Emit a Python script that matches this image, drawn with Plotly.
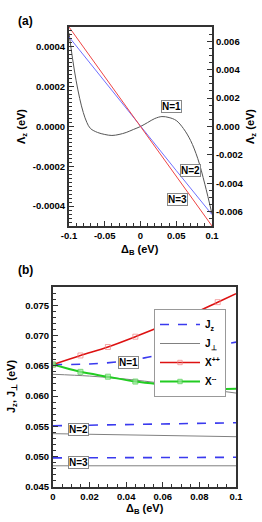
import plotly.graph_objects as go

# ---------- Panel (a) data ----------
xa_curve = [-0.1, -0.095, -0.09, -0.085, -0.08, -0.075, -0.07, -0.06, -0.05, -0.04, -0.03,
            -0.02, -0.01, 0.0, 0.01, 0.02, 0.03, 0.04, 0.05, 0.06, 0.07, 0.08, 0.09, 0.1]
lam_n1 = [0.00047, 0.00034, 0.00023, 0.00014, 0.00007, 0.00002, -0.00001, -0.00003, -0.00004,
          -0.000045, -0.00004, -0.00003, -0.000015, 0.0, 0.00002, 0.00004, 0.00005, 0.000045,
          0.00003, -0.00001, -0.00007, -0.00016, -0.00029, -0.00044]
xa_lin = [-0.1, -0.05, 0.0, 0.05, 0.1]
lam_n2 = [0.0063, 0.00315, 0.0, -0.0031, -0.0062]
lam_n3 = [0.0070, 0.0035, 0.0, -0.0035, -0.0070]

xa_tickvals = [-0.1, -0.05, 0, 0.05, 0.1]
xa_ticktext = ["-0.1", "-0.05", "0", "0.05", "0.1"]
ya_tickvals = [-0.0004, -0.0002, 0.0, 0.0002, 0.0004]
ya_ticktext = ["-0.0004", "-0.0002", "0.0000", "0.0002", "0.0004"]
ya2_tickvals = [-0.006, -0.004, -0.002, 0.0, 0.002, 0.004, 0.006]
ya2_ticktext = ["-0.006", "-0.004", "-0.002", "0.000", "0.002", "0.004", "0.006"]

# ---------- Panel (b) data ----------
xb_line = [0.0, 0.02, 0.04, 0.05, 0.06, 0.08, 0.1]
jz_n1 = [0.0652, 0.0653, 0.0658, 0.0663, 0.0669, 0.0679, 0.0689]
xb_perp = [0.0, 0.02, 0.04, 0.06, 0.08, 0.1]
jp_n1 = [0.0636, 0.0633, 0.0628, 0.0621, 0.0613, 0.0605]
xb_flat = [0.0, 0.05, 0.1]
jz_n2 = [0.0551, 0.0554, 0.0556]
jp_n2 = [0.0538, 0.0535, 0.0533]
jz_n3 = [0.0498, 0.0499, 0.0499]
jp_n3 = [0.0485, 0.0485, 0.0485]
xb_x = [0.0, 0.015, 0.03, 0.045, 0.06, 0.075, 0.09, 0.1]
x_pp = [0.0652, 0.0667, 0.0681, 0.0698, 0.0716, 0.0734, 0.0755, 0.0769]
x_mm = [0.0652, 0.0640, 0.0632, 0.0624, 0.0619, 0.0615, 0.0612, 0.0612]

xb_tickvals = [0, 0.02, 0.04, 0.06, 0.08, 0.1]
xb_ticktext = ["0", "0.02", "0.04", "0.06", "0.08", "0.1"]
yb_tickvals = [0.045, 0.05, 0.055, 0.06, 0.065, 0.07, 0.075]
yb_ticktext = ["0.045", "0.050", "0.055", "0.060", "0.065", "0.070", "0.075"]

W, H = 262, 522
FONT = "Liberation Sans, Arial, sans-serif"
TF = dict(family=FONT, size=9.5, color="black", weight="bold")
TTL = dict(family=FONT, size=11, color="black", weight="bold")

def px_x(p):
    return p / W

def px_y(p):
    return 1 - p / H

fig = go.Figure()

# Panel (a)
fig.add_trace(go.Scatter(x=xa_curve, y=lam_n1, mode="lines", line=dict(color="#555555", width=1, shape="spline"),
                         xaxis="x", yaxis="y", showlegend=False))
fig.add_trace(go.Scatter(x=xa_lin, y=lam_n2, mode="lines", line=dict(color="#6f6fff", width=1),
                         xaxis="x", yaxis="y2", showlegend=False))
fig.add_trace(go.Scatter(x=xa_lin, y=lam_n3, mode="lines", line=dict(color="#ee4444", width=1),
                         xaxis="x", yaxis="y2", showlegend=False))

# Panel (b)
blue = "#3a3aee"
gray = "#808080"
fig.add_trace(go.Scatter(x=xb_line, y=jz_n1, mode="lines", name="J<sub>z</sub>",
                         line=dict(color=blue, width=1.6, dash="dash", shape="spline"),
                         xaxis="x3", yaxis="y3", legendrank=1))
fig.add_trace(go.Scatter(x=xb_perp, y=jp_n1, mode="lines", name="J<sub>⊥</sub>",
                         line=dict(color=gray, width=1, shape="spline"),
                         xaxis="x3", yaxis="y3", legendrank=2))
for yv in (jz_n2, jz_n3):
    fig.add_trace(go.Scatter(x=xb_flat, y=yv, mode="lines", line=dict(color=blue, width=1.6, dash="dash"),
                             xaxis="x3", yaxis="y3", showlegend=False))
for yv in (jp_n2, jp_n3):
    fig.add_trace(go.Scatter(x=xb_flat, y=yv, mode="lines", line=dict(color=gray, width=1),
                             xaxis="x3", yaxis="y3", showlegend=False))
msizes = [5, 5, 5, 5, 5, 5, 5, 0]
fig.add_trace(go.Scatter(x=xb_x, y=x_pp, mode="lines+markers", name="X<sup>++</sup>",
                         line=dict(color="#dd1111", width=1.6, shape="spline"),
                         marker=dict(symbol="square-open", size=msizes, color="#f08080", line=dict(width=1)),
                         xaxis="x3", yaxis="y3", legendrank=3))
fig.add_trace(go.Scatter(x=xb_x, y=x_mm, mode="lines+markers", name="X<sup>--</sup>",
                         line=dict(color="#22cc22", width=2, shape="spline"),
                         marker=dict(symbol="square", size=msizes, color="#9be89b",
                                     line=dict(color="#44cc44", width=1)),
                         xaxis="x3", yaxis="y3", legendrank=4))

axis_common = dict(showline=True, linecolor="#333333", linewidth=2, ticks="inside", tickcolor="#333333",
                   tickfont=TF, showgrid=False, zeroline=False, ticklen=5, automargin=False)

fig.update_layout(
    width=W, height=H, margin=dict(l=0, r=0, t=0, b=0, autoexpand=False),
    paper_bgcolor="white", plot_bgcolor="white",
    font=dict(family=FONT, size=10, color="black"),
    xaxis=dict(domain=[px_x(69), px_x(212)], anchor="y", range=[-0.1, 0.1], mirror=True,
               tickvals=xa_tickvals, ticktext=xa_ticktext,
               minor=dict(ticks="inside", dtick=0.01, ticklen=3, tickcolor="#333333"),
               **axis_common),
    yaxis=dict(domain=[px_y(226), px_y(27)], anchor="x", range=[-0.0005, 0.0005],
               tickvals=ya_tickvals, ticktext=ya_ticktext,
               minor=dict(ticks="inside", dtick=0.00002, ticklen=3, tickcolor="#333333"),
               **axis_common),
    yaxis2=dict(overlaying="y", side="right", anchor="x", range=[-0.007, 0.007],
                tickvals=ya2_tickvals, ticktext=ya2_ticktext,
                minor=dict(ticks="inside", dtick=0.0005, ticklen=3, tickcolor="#333333"),
                **axis_common),
    xaxis3=dict(domain=[px_x(53), px_x(236)], anchor="y3", range=[0, 0.1], mirror=True,
                tickvals=xb_tickvals, ticktext=xb_ticktext,
                minor=dict(ticks="inside", dtick=0.005, ticklen=3, tickcolor="#333333"),
                **axis_common),
    yaxis3=dict(domain=[px_y(487), px_y(287)], anchor="x3", range=[0.045, 0.078], mirror=True,
                tickvals=yb_tickvals, ticktext=yb_ticktext,
                minor=dict(ticks="inside", dtick=0.001, ticklen=3, tickcolor="#333333"),
                **axis_common),
    legend=dict(x=px_x(154), y=px_y(309), xanchor="left", yanchor="top",
                bgcolor="white", bordercolor="#999999", borderwidth=1,
                font=dict(family=FONT, size=10, color="black", weight="bold"),
                itemwidth=40, tracegroupgap=0),
)

ann_style = dict(showarrow=False, font=dict(family=FONT, size=10, color="black", weight="bold"),
                 bgcolor="white", bordercolor="#888888", borderwidth=1, borderpad=0)
labels_a = [("N=1", 0.044, 0.0001), ("N=2", 0.0706, -0.00022), ("N=3", 0.0524, -0.000365)]
for t, xv, yv in labels_a:
    fig.add_annotation(text=t, x=xv, y=yv, xref="x", yref="y", **ann_style)
labels_b = [("N=1", 0.041, 0.0655), ("N=2", 0.0137, 0.0545), ("N=3", 0.0137, 0.049)]
for t, xv, yv in labels_b:
    fig.add_annotation(text=t, x=xv, y=yv, xref="x3", yref="y3", **ann_style)

# axis titles as paper annotations
titles = [
    ("Δ<sub>B</sub> (eV)", 140, 250, 0),
    ("Λ<sub>z</sub> (eV)", 22, 127, -90),
    ("Λ<sub>z</sub> (eV)", 251, 127, -90),
    ("Δ<sub>B</sub> (eV)", 145, 509, 0),
    ("J<sub>z</sub>, J<sub>⊥</sub> (eV)", 12, 387, -90),
]
for t, xp, yp, ang in titles:
    fig.add_annotation(text=t, x=px_x(xp), y=px_y(yp), xref="paper", yref="paper",
                       xanchor="center", yanchor="middle", textangle=ang,
                       showarrow=False, font=TTL)

fig.add_annotation(text="(a)", x=px_x(16), y=px_y(12), xref="paper", yref="paper", xanchor="left",
                   showarrow=False, font=dict(family=FONT, size=12, color="black", weight="bold"))
fig.add_annotation(text="(b)", x=px_x(16), y=px_y(270), xref="paper", yref="paper", xanchor="left",
                   showarrow=False, font=dict(family=FONT, size=12, color="black", weight="bold"))

fig.write_html("out.html", config={"displayModeBar": False},
               post_script="document.body.style.margin='0px';document.body.style.overflow='hidden';")
